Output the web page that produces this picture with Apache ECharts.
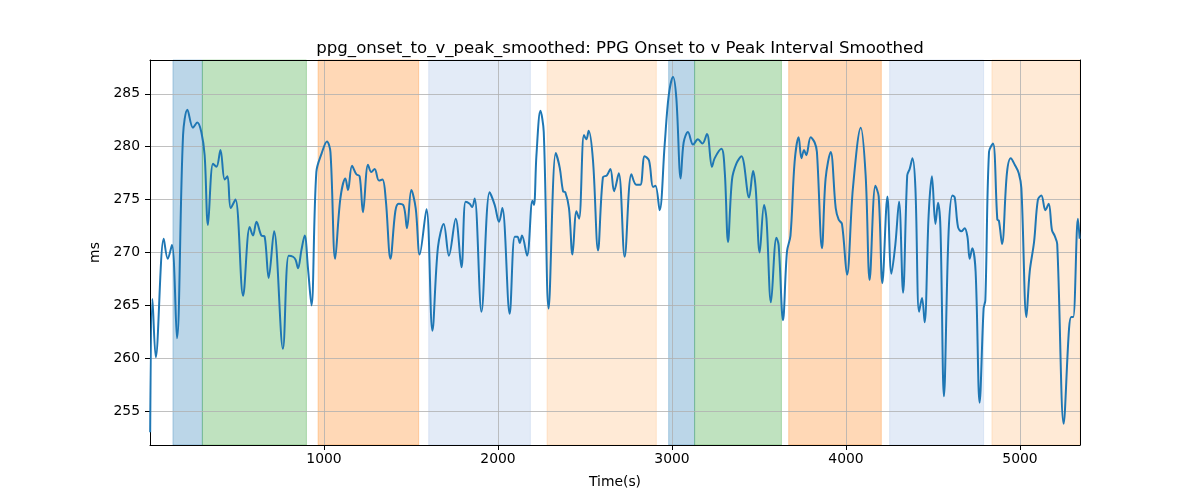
<!DOCTYPE html>
<html>
<head>
<meta charset="utf-8">
<script src="https://cdn.jsdelivr.net/npm/echarts@6/dist/echarts.min.js"></script>
<style>
html,body{margin:0;padding:0;background:#fff;}
#chart{width:1200px;height:500px;}
</style>
</head>
<body>
<div id="chart"></div>
<script>
// ---- data ----
const times = [1,14,33,79,102,126,155,190,215,247,272,295,314,333,362,382,405,429,445,464,491,535,573,592,612,640,659,682,713,764,797,822,837,851,870,889,908,928,956,985,1017,1037,1064,1094,1123,1138,1161,1186,1205,1224,1253,1272,1291,1316,1336,1355,1382,1410,1429,1458,1477,1502,1527,1550,1589,1623,1655,1688,1718,1757,1790,1814,1837,1851,1866,1905,1952,1981,2006,2025,2067,2096,2112,2125,2138,2167,2198,2207,2221,2244,2263,2291,2332,2355,2374,2387,2408,2428,2451,2466,2494,2508,2521,2546,2575,2603,2626,2646,2667,2694,2728,2767,2795,2818,2843,2868,2891,2905,2929,2958,2981,3006,3025,3050,3067,3092,3121,3149,3175,3201,3230,3245,3284,3303,3322,3345,3370,3399,3443,3466,3481,3504,3529,3543,3569,3600,3613,3638,3661,3681,3705,3728,3744,3759,3772,3797,3820,3833,3862,3883,3912,3941,3958,3977,4006,4040,4085,4113,4136,4169,4188,4209,4238,4261,4284,4305,4328,4352,4366,4382,4399,4420,4437,4452,4475,4494,4514,4529,4543,4563,4590,4612,4625,4644,4663,4682,4698,4711,4726,4745,4768,4791,4801,4822,4845,4870,4879,4897,4925,4947,4970,4993,5008,5037,5056,5081,5103,5123,5146,5165,5184,5199,5214,5251,5282,5295,5306,5333,5343];
const values = [253.0,265.6,260.1,271.3,269.4,270.7,261.9,281.1,283.5,281.8,282.3,281.4,279.2,272.6,278.4,278.1,279.7,276.9,277.2,274.2,275.0,265.9,272.4,271.6,272.9,271.6,271.5,267.6,272.0,260.9,269.7,269.6,269.3,268.5,270.2,271.6,268.5,265.0,277.6,279.3,280.5,279.5,269.4,275.1,277.0,275.9,278.2,277.4,277.2,273.8,278.3,277.6,277.9,276.8,276.9,275.0,269.4,273.9,274.6,274.4,272.3,275.9,274.2,269.8,274.1,262.6,270.5,272.7,269.7,273.2,268.6,274.8,274.6,274.3,275.1,264.4,275.7,274.5,272.9,274.2,264.2,271.5,271.5,270.9,271.6,269.7,274.9,274.5,279.2,283.4,281.4,264.7,279.4,278.0,275.8,275.7,274.2,269.8,273.9,273.2,281.1,280.7,281.5,278.7,270.2,277.1,277.3,277.9,275.8,277.5,269.6,277.4,276.4,276.4,279.1,278.7,276.2,276.3,274.0,280.2,284.8,286.6,284.6,277.0,280.4,281.4,280.2,280.7,280.3,281.2,278.1,278.9,279.8,277.7,271.0,276.9,278.4,279.1,275.2,277.7,276.1,270.0,274.5,273.2,265.3,271.4,270.7,263.6,270.1,271.6,278.6,280.9,278.9,279.7,279.2,280.9,280.4,279.5,270.4,277.0,279.5,274.2,273.1,272.7,267.9,276.1,281.8,277.3,267.4,276.3,275.3,267.1,275.3,268.0,270.8,274.8,266.2,277.3,277.9,278.9,276.1,264.4,265.7,263.4,273.5,277.2,272.7,274.7,272.3,256.4,272.0,275.4,275.2,272.4,272.0,272.3,271.5,269.4,270.4,268.2,255.8,264.7,265.5,279.5,280.3,273.1,273.0,270.8,277.5,278.9,278.3,277.5,276.1,263.9,268.2,271.0,275.0,275.4,274.0,274.6,272.1,271.6,270.8,253.8,262.8,263.9,263.9,273.2,271.3];

const bandStart = [132, 301, 966, 1602, 2282, 2981, 3130, 3671, 4251, 4839];
const bandEnd   = [301, 899, 1544, 2186, 2910, 3130, 3629, 4203, 4791, 5345];
const bandKind  = ['blue', 'green', 'orange', 'lightblue', 'lightorange', 'blue', 'green', 'orange', 'lightblue', 'lightorange'];

const xTickLabels = ['1000', '2000', '3000', '4000', '5000'];
const yTickLabels = ['255', '260', '265', '270', '275', '280', '285'];

const titleText = 'ppg_onset_to_v_peak_smoothed: PPG Onset to v Peak Interval Smoothed';

// ---- styles ----
const bandColors = {
  blue: 'rgba(31,119,180,0.3)',
  green: 'rgba(44,160,44,0.3)',
  orange: 'rgba(255,127,14,0.3)',
  lightblue: 'rgba(174,199,232,0.35)',
  lightorange: 'rgba(255,187,120,0.3)'
};

const font = 'DejaVu Sans';
const seriesData = times.map((t, i) => [t, values[i]]);
const markData = bandStart.map((s, i) => [
  { xAxis: s, itemStyle: { color: bandColors[bandKind[i]], borderColor: bandColors[bandKind[i]], borderWidth: 1 } },
  { xAxis: bandEnd[i] }
]);

const chart = echarts.init(document.getElementById('chart'), null, { renderer: 'canvas' });
const xMin = 0, xMax = 5345, yMin = 251.8, yMax = 288.2;

chart.setOption({
  animation: false,
  backgroundColor: '#ffffff',
  title: {
    text: titleText,
    left: 615, top: 35, textAlign: 'center',
    textStyle: { fontFamily: font, fontSize: 16.6, fontWeight: 'normal', color: '#000' }
  },
  grid: { left: 150, right: 120, top: 60, bottom: 55, containLabel: false },
  xAxis: [{
    type: 'value', min: xMin, max: xMax, interval: 1000, z: 1,
    name: 'Time(s)', nameLocation: 'middle', nameGap: 30,
    nameTextStyle: { fontFamily: font, fontSize: 13.9, color: '#000' },
    axisLine: { show: true, onZero: false, lineStyle: { color: '#000', width: 1 } },
    axisTick: { show: true, length: 5, lineStyle: { color: '#000' } },
    axisLabel: {
      show: true, margin: 7, fontFamily: font, fontSize: 13.9, color: '#000',
      showMinLabel: false, showMaxLabel: false,
      formatter: v => (xTickLabels.indexOf(String(v)) >= 0 ? String(v) : '')
    },
    splitLine: { show: true, lineStyle: { color: '#b0b0b0', width: 0.8 } }
  }, {
    type: 'value', min: xMin, max: xMax, position: 'top', z: 1,
    axisLine: { show: true, onZero: false, lineStyle: { color: '#000', width: 1 } },
    axisTick: { show: false }, axisLabel: { show: false }, splitLine: { show: false }
  }],
  yAxis: [{
    type: 'value', min: yMin, max: yMax, minInterval: 5, maxInterval: 5, splitNumber: 7, z: 1,
    name: 'ms', nameLocation: 'middle', nameGap: 40, nameRotate: 90,
    nameTextStyle: { fontFamily: font, fontSize: 13.9, color: '#000' },
    axisLine: { show: true, onZero: false, lineStyle: { color: '#000', width: 1 } },
    axisTick: { show: true, length: 5, lineStyle: { color: '#000' } },
    axisLabel: {
      show: true, margin: 10, fontFamily: font, fontSize: 13.9, color: '#000',
      showMinLabel: false, showMaxLabel: false,
      formatter: v => (yTickLabels.indexOf(String(v)) >= 0 ? String(v) : '')
    },
    splitLine: { show: true, lineStyle: { color: '#b0b0b0', width: 0.8 } }
  }, {
    type: 'value', min: yMin, max: yMax, position: 'right', z: 1,
    axisLine: { show: true, onZero: false, lineStyle: { color: '#000', width: 1 } },
    axisTick: { show: false }, axisLabel: { show: false }, splitLine: { show: false }
  }],
  series: [{
    type: 'line', data: [], z: 0, silent: true,
    markArea: { silent: true, z: 0, data: markData }
  }, {
    type: 'line', data: seriesData, z: 3,
    showSymbol: false, smooth: 0.35,
    lineStyle: { color: '#1f77b4', width: 2 },
    itemStyle: { color: '#1f77b4' }
  }]
});
</script>
</body>
</html>
